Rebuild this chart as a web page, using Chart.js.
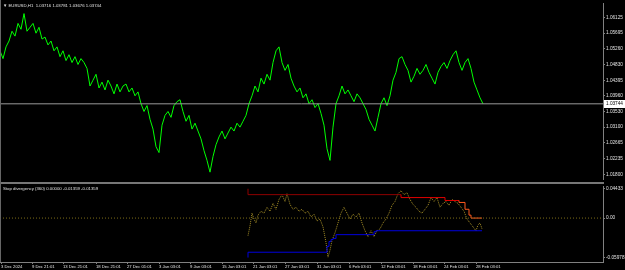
<!DOCTYPE html>
<html>
<head>
<meta charset="utf-8">
<title>EURUSD,H1</title>
<script src="https://cdn.jsdelivr.net/npm/chart.js@4/dist/chart.umd.min.js"></script>
<style>
  html, body { margin: 0; padding: 0; background: #000; }
  body { width: 625px; height: 270px; position: relative; overflow: hidden; font-family: 'Liberation Sans', sans-serif; }
  .pane { position: absolute; left: 0; width: 625px; }
  #mainPane { top: 0; height: 183px; }
  #subPane { top: 183px; height: 87px; }
  .sep { position: absolute; left: 0; top: 182px; width: 604px; height: 2px; background: #777; z-index: 2; }
  .edge { position: absolute; left: 0; top: 0; width: 1px; height: 262px; background: #666; z-index: 2; }
  .lbl { position: absolute; color: #e0e0e0; font-size: 4.3px; white-space: pre; z-index: 3; }
</style>
</head>
<body>
<div class="pane" id="mainPane"><canvas id="mainChart"></canvas></div>
<div class="pane" id="subPane"><canvas id="subChart"></canvas></div>
<div class="sep"></div>
<div class="edge"></div>
<div class="lbl" style="left:3px;top:3px;">&#9660; EURUSD,H1  1.03716 1.03781 1.03676 1.03744</div>
<div class="lbl" style="left:3px;top:186px;">Stop divergency (360) 0.00000 -0.01359 -0.01359</div>

<script>
// ---- data (bar index ~ hourly bars, 0 = 3 Dec 2024) ----
const BAR_MAX = 603;
const PRICE_STEP = 3; // one close sampled every 3 bars
const priceVals = [
  1.05207,1.04991,1.05315,1.05477,1.05747,1.05612,1.05963,1.05801,1.06233,1.05747,
  1.05855,1.05963,1.05693,1.05855,1.05531,1.05585,1.05369,1.05477,1.05207,1.05315,
  1.05045,1.05207,1.04937,1.05099,1.04883,1.05045,1.04829,1.04991,1.04883,1.04721,
  1.04235,1.04397,1.04559,1.04181,1.04343,1.04127,1.04397,1.04235,1.04019,1.04289,
  1.04073,1.04235,1.04289,1.04073,1.04181,1.03965,1.04073,1.03749,1.03533,1.03695,
  1.03317,1.03047,1.02561,1.02399,1.03155,1.03425,1.03533,1.03371,1.03695,1.03803,
  1.03857,1.03533,1.03263,1.03425,1.03047,1.03209,1.02993,1.02777,1.02453,1.02183,
  1.01859,1.02291,1.02615,1.02831,1.02993,1.02777,1.02939,1.03101,1.02993,1.03209,
  1.03101,1.03263,1.03425,1.03749,1.03965,1.04235,1.04073,1.04451,1.04289,1.04559,
  1.04397,1.04883,1.05207,1.05315,1.04883,1.04667,1.04829,1.04451,1.04235,1.04073,
  1.04181,1.03911,1.04019,1.03749,1.03857,1.03641,1.03749,1.03479,1.03155,1.02507,
  1.02183,1.03101,1.03749,1.03965,1.04235,1.04019,1.04127,1.03965,1.03803,1.04019,
  1.03911,1.03749,1.03587,1.03317,1.03155,1.02993,1.03371,1.03749,1.03911,1.03695,
  1.03965,1.04397,1.04613,1.04991,1.05045,1.04829,1.04667,1.04343,1.04505,1.04721,
  1.04559,1.04667,1.04829,1.04613,1.04451,1.04289,1.04613,1.04775,1.04883,1.04721,
  1.04937,1.05099,1.05207,1.04883,1.04667,1.04883,1.04991,1.04721,1.04343,1.04127,
  1.03911,1.03744
];
const priceTicks = [1.06125, 1.05695, 1.05260, 1.04830, 1.04395, 1.03960, 1.03530, 1.03100, 1.02665, 1.02235, 1.01800];

// divergency value (dotted)
const divBars = [248,250,252,254,256,258,261,264,267,270,273,276,279,282,285,287,290,293,296,299,302,305,308,311,314,317,320,323,326,328,330,332,335,338,341,344,347,350,353,356,359,362,365,368,371,374,377,380,383,386,389,392,395,398,401,404,407,410,413,416,419,422,425,428,431,434,437,440,443,446,449,452,455,458,461,464,467,470,473,476,478,480,482];
const divVals = [-0.0266,-0.0118,0.0074,-0.0015,-0.0074,0.0044,0.0103,0.0074,0.0163,0.0103,0.0222,0.0133,0.0281,0.0355,0.0251,0.0369,0.0207,0.0133,0.0163,0.0103,0.0133,0.0074,0.0103,0.0015,0.0059,-0.0044,-0.0015,-0.0133,-0.0369,-0.0591,-0.0488,-0.0340,-0.0222,-0.0074,0.0074,0.0163,0.0074,-0.0015,0.0059,0.0015,0.0074,-0.0074,-0.0192,-0.0281,-0.0192,-0.0281,-0.0192,-0.0163,-0.0074,-0.0015,0.0074,0.0192,0.0251,0.0369,0.0414,0.0355,0.0384,0.0281,0.0207,0.0163,0.0103,0.0074,0.0133,0.0192,0.0310,0.0251,0.0310,0.0163,0.0222,0.0251,0.0192,0.0281,0.0251,0.0222,0.0163,0.0103,-0.0015,-0.0074,-0.0133,-0.0192,-0.0103,-0.0074,-0.0163];

// upper (red) and lower (blue) stops, change points
const upperBars = [248, 401, 445, 459, 465, 469, 471, 473, 482];
const upperVals = [0.04433, 0.03546, 0.03103, 0.02660, 0.02364, 0.01330, 0.00443, 0.0, 0.0];
const lowerBars = [248, 327, 329, 331, 333, 336, 374, 376, 378, 482];
const lowerVals = [-0.05978, -0.0517, -0.0429, -0.0355, -0.0325, -0.0310, -0.0251, -0.0207, -0.0192, -0.0192];

const subTicks = [0.04433, 0.0, -0.05978];
const subTickLabels = ['0.04433', '0.00', '-0.05978'];

const timeBars = [1, 32, 63, 96, 127, 159, 190, 222, 253, 285, 317, 349, 381, 413, 444, 476];
const timeLabels = ['3 Dec 2024', '9 Dec 21:01', '13 Dec 21:01', '18 Dec 21:01', '27 Dec 01:01', '3 Jan 03:01', '9 Jan 03:01', '15 Jan 03:01', '21 Jan 03:01', '27 Jan 03:01', '31 Jan 03:01', '6 Feb 03:01', '12 Feb 03:01', '18 Feb 03:01', '24 Feb 03:01', '28 Feb 03:01'];

// ---- helpers ----
const pts = (xs, ys) => ys.map((v, i) => ({ x: xs[i], y: v }));
const lastPrice = priceVals[priceVals.length - 1];
const yFont = { family: 'Liberation Sans', size: 4.7 };
const xFont = { family: 'Liberation Sans', size: 4.2 };
const AXIS = '#808080';
const TXT = '#e0e0e0';

const base = {
    responsive: true,
    maintainAspectRatio: false,
    animation: false,
    events: [],
    plugins: { legend: { display: false }, tooltip: { enabled: false }, title: { display: false } },
    elements: { point: { radius: 0 }, line: { tension: 0 } }
};

// current price tag on the right axis
const priceTag = {
    id: 'priceTag',
    afterDraw(chart) {
        const y = chart.scales.y.getPixelForValue(lastPrice);
        const ctx = chart.ctx;
        ctx.save();
        ctx.fillStyle = '#ffffff';
        ctx.fillRect(chart.chartArea.right + 1, Math.round(y) - 4, 21, 8);
        ctx.fillStyle = '#000';
        ctx.font = '4.7px Liberation Sans';
        ctx.textBaseline = 'middle';
        ctx.fillText(lastPrice.toFixed(5), chart.chartArea.right + 3, Math.round(y));
        ctx.restore();
    }
};

new Chart(document.getElementById('mainChart'), {
    type: 'line',
    data: {
        datasets: [
            {
                data: [{ x: 0, y: lastPrice }, { x: BAR_MAX, y: lastPrice }],
                borderColor: '#9a9a9a', borderWidth: 1
            },
            {
                data: priceVals.map((v, i) => ({ x: i * PRICE_STEP, y: v })),
                borderColor: '#00ff00', borderWidth: 1
            }
        ]
    },
    options: {
        ...base,
        layout: { padding: { top: 2, bottom: 2, left: 0, right: 0 } },
        scales: {
            x: { type: 'linear', min: 0, max: BAR_MAX, display: false },
            y: {
                position: 'right', min: 1.01665, max: 1.06503,
                afterFit(s) { s.width = 22; },
                afterBuildTicks(s) { s.ticks = priceTicks.map(v => ({ value: v })); },
                grid: { drawOnChartArea: false, color: AXIS, tickLength: 2 },
                border: { color: AXIS, width: 1 },
                ticks: { color: TXT, font: yFont, padding: 1, callback: v => v.toFixed(5) }
            }
        }
    },
    plugins: [priceTag]
});

new Chart(document.getElementById('subChart'), {
    type: 'line',
    data: {
        datasets: [
            {
                data: [{ x: 0, y: 0 }, { x: BAR_MAX, y: 0 }],
                borderColor: '#7d6c18', borderWidth: 1, borderDash: [1, 2]
            },
            {
                data: pts(upperBars, upperVals), stepped: 'after',
                borderColor: '#8e0000', borderWidth: 1,
                segment: { borderColor: c => c.p0.parsed.x >= 459 ? '#ff5a1e' : (c.p0.parsed.x >= 401 ? '#e00000' : '#8e0000') }
            },
            {
                data: pts(lowerBars, lowerVals), stepped: 'after',
                borderColor: '#0000dd', borderWidth: 1
            },
            {
                data: pts(divBars, divVals),
                borderColor: '#a68f26', borderWidth: 1, borderDash: [1, 1]
            }
        ]
    },
    options: {
        ...base,
        layout: { padding: { top: 2, bottom: 0, left: 0, right: 0 } },
        scales: {
            x: {
                type: 'linear', min: 0, max: BAR_MAX,
                afterFit(s) { s.height = 8; },
                afterBuildTicks(s) { s.ticks = timeBars.map(v => ({ value: v })); },
                grid: { drawOnChartArea: false, color: AXIS, tickLength: 2 },
                border: { color: AXIS, width: 1 },
                ticks: {
                    color: TXT, font: xFont, padding: 0, align: 'start',
                    autoSkip: false, maxRotation: 0,
                    callback: v => timeLabels[timeBars.indexOf(v)]
                }
            },
            y: {
                position: 'right', min: -0.0665, max: 0.04729,
                afterFit(s) { s.width = 22; },
                afterBuildTicks(s) { s.ticks = subTicks.map(v => ({ value: v })); },
                grid: { drawOnChartArea: false, color: AXIS, tickLength: 2 },
                border: { color: AXIS, width: 1 },
                ticks: { color: TXT, font: yFont, padding: 1, callback: v => subTickLabels[subTicks.indexOf(v)] }
            }
        }
    }
});
</script>
</body>
</html>
